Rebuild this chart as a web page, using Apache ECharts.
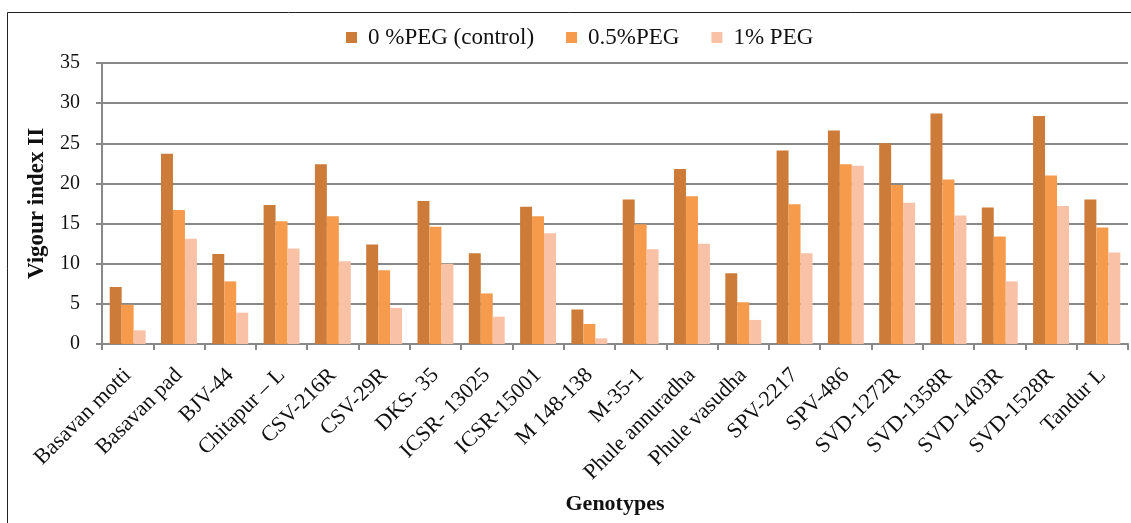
<!DOCTYPE html>
<html>
<head>
<meta charset="utf-8">
<script src="https://cdn.jsdelivr.net/npm/echarts@6/dist/echarts.min.js"></script>
<style>
    html, body { margin: 0; padding: 0; background: #fff; }
    #chartBar { width: 1131px; height: 523px; }
</style>
</head>
<body>
<div id="chartBar"></div>
<script>
    // genotypes on the x axis
    let genotypes = ['Basavan motti', 'Basavan pad', 'BJV-44', 'Chitapur \u2013 L', 'CSV-216R', 'CSV-29R', 'DKS- 35',
        'ICSR- 13025', 'ICSR-15001', 'M 148-138', 'M-35-1', 'Phule annuradha', 'Phule vasudha', 'SPV-2217',
        'SPV-486', 'SVD-1272R', 'SVD-1358R', 'SVD-1403R', 'SVD-1528R', 'Tandur L'];

    let seriesNames = ['0 %PEG (control)', '0.5%PEG', '1% PEG'];

    // vigour index II
    let peg0 = [7.1, 23.7, 11.2, 17.3, 22.4, 12.4, 17.8, 11.3, 17.1, 4.3, 18.0, 21.8, 8.8, 24.1, 26.6, 25.0, 28.7, 17.0, 28.4, 18.0];
    let peg05 = [4.9, 16.7, 7.8, 15.3, 15.9, 9.2, 14.6, 6.3, 15.9, 2.5, 14.9, 18.4, 5.2, 17.4, 22.4, 19.8, 20.5, 13.4, 21.0, 14.5];
    let peg1 = [1.7, 13.1, 3.9, 11.9, 10.3, 4.5, 10.0, 3.4, 13.8, 0.7, 11.8, 12.5, 3.0, 11.3, 22.2, 17.6, 16.0, 7.8, 17.2, 11.4];

    let yTicks = [0, 5, 10, 15, 20, 25, 30, 35];

    let colors = ['#cd7b39', '#f69a4b', '#f9c1a5'];
    let font = '"Liberation Serif", "Times New Roman", serif';

    let chartBar = echarts.init(document.getElementById('chartBar'));

    let values = [peg0, peg05, peg1];
    let series = [];
    for (let i = 0; i < values.length; i++) {
        series.push({
            name: seriesNames[i],
            type: 'bar',
            barGap: '0%',
            barCategoryGap: '30%',
            itemStyle: {
                color: colors[i]
            },
            data: values[i]
        });
    }

    chartBar.setOption({
        animation: false,
        textStyle: {
            fontFamily: font
        },
        graphic: [
            {
                type: 'rect',
                shape: { x: 7.5, y: 12.5, width: 1140, height: 530 },
                style: { fill: null, stroke: '#222', lineWidth: 1 },
                silent: true
            }
        ],
        legend: {
            left: 341,
            top: 21,
            itemWidth: 11,
            itemHeight: 11,
            itemGap: 32,
            icon: 'rect',
            data: seriesNames,
            textStyle: {
                fontFamily: font,
                fontSize: 23,
                color: '#111',
                padding: [0, 0, 0, 6]
            }
        },
        grid: {
            left: 102,
            top: 63,
            right: 3,
            height: 281,
            containLabel: false
        },
        xAxis: {
            type: 'category',
            data: genotypes,
            name: 'Genotypes',
            nameLocation: 'middle',
            nameGap: 149,
            nameTextStyle: {
                fontFamily: font,
                fontSize: 22,
                fontWeight: 'bold',
                color: '#111'
            },
            axisLabel: {
                interval: 0,
                rotate: 45,
                margin: 28,
                fontFamily: font,
                fontSize: 22,
                color: '#111'
            },
            axisTick: {
                show: true,
                interval: 0,
                length: 6,
                lineStyle: { color: '#888', width: 2 }
            },
            axisLine: {
                show: true,
                lineStyle: { color: '#888', width: 2 }
            }
        },
        yAxis: {
            type: 'value',
            min: yTicks[0],
            max: yTicks[yTicks.length - 1],
            interval: 5,
            name: 'Vigour index II',
            nameLocation: 'middle',
            nameGap: 53,
            nameTextStyle: {
                fontFamily: font,
                fontSize: 23,
                fontWeight: 'bold',
                color: '#111'
            },
            axisLabel: {
                margin: 22,
                fontFamily: font,
                fontSize: 20,
                color: '#111'
            },
            axisTick: {
                show: true,
                length: 6,
                lineStyle: { color: '#888', width: 2 }
            },
            axisLine: {
                show: true,
                lineStyle: { color: '#888', width: 2 }
            },
            splitLine: {
                lineStyle: { color: '#888', width: 2 }
            }
        },
        series: series
    });
</script>
</body>
</html>
